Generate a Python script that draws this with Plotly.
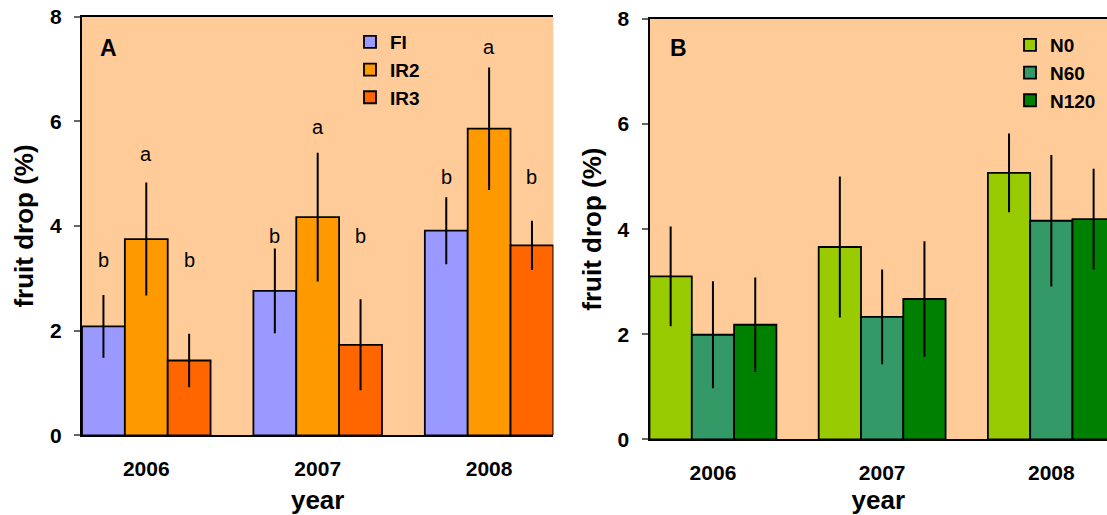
import plotly.graph_objects as go

# ---------------- data ----------------
years = ["2006", "2007", "2008"]
x_pos = [0, 1, 2]

# panel A: irrigation treatments
FI = [2.08, 2.76, 3.91]
FI_err = [0.60, 0.81, 0.64]
IR2 = [3.75, 4.17, 5.86]
IR2_err = [1.08, 1.23, 1.17]
IR3 = [1.43, 1.73, 3.63]
IR3_err = [0.51, 0.87, 0.47]
# significance letters and their heights (value units)
FI_letters = ["b", "b", "b"]
IR2_letters = ["a", "a", "a"]
IR3_letters = ["b", "b", "b"]
FI_letter_y = [3.35, 3.81, 4.94]
IR2_letter_y = [5.38, 5.90, 7.43]
IR3_letter_y = [3.35, 3.81, 4.94]

# panel B: nitrogen treatments
N0 = [3.10, 3.66, 5.07]
N0_err = [0.95, 1.34, 0.75]
N60 = [1.99, 2.33, 4.16]
N60_err = [1.02, 0.90, 1.25]
N120 = [2.18, 2.67, 4.19]
N120_err = [0.90, 1.10, 0.96]

y_ticks = [0, 2, 4, 6, 8]

# ---------------- style ----------------
W, H = 1107, 515
FONT = "Liberation Sans, Arial, sans-serif"
BG = "#FFCC99"
BAR_LINE = dict(color="black", width=1.8)


def err(a):
    return dict(type="data", array=a, visible=True, color="black",
                thickness=2, width=0)


fig = go.Figure()

seriesA = [("FI", FI, FI_err, "#9999FF"),
           ("IR2", IR2, IR2_err, "#FF9900"),
           ("IR3", IR3, IR3_err, "#FF6600")]
for name, vals, e, col in seriesA:
    fig.add_trace(go.Bar(x=x_pos, y=vals, name=name, error_y=err(e),
                         marker=dict(color=col, line=BAR_LINE),
                         xaxis="x", yaxis="y", legend="legend",
                         offsetgroup=name))

seriesB = [("N0", N0, N0_err, "#99CC00"),
           ("N60", N60, N60_err, "#339966"),
           ("N120", N120, N120_err, "#008000")]
for name, vals, e, col in seriesB:
    fig.add_trace(go.Bar(x=x_pos, y=vals, name=name, error_y=err(e),
                         marker=dict(color=col, line=BAR_LINE),
                         xaxis="x2", yaxis="y2", legend="legend2",
                         offsetgroup=name))

# significance letters (panel A)
bar_w = 0.25
offsets = [-bar_w, 0, bar_w]
annotations = []
for k, (letters, ly) in enumerate([(FI_letters, FI_letter_y),
                                   (IR2_letters, IR2_letter_y),
                                   (IR3_letters, IR3_letter_y)]):
    for i in range(len(years)):
        annotations.append(dict(x=x_pos[i] + offsets[k], y=ly[i], xref="x", yref="y",
                                text=letters[i], showarrow=False,
                                font=dict(family=FONT, size=20, color="black")))

# panel letters
annotations.append(dict(x=108 / W, y=1 - 48 / H, xref="paper", yref="paper",
                        text="A", showarrow=False, xanchor="center", yanchor="middle",
                        font=dict(family=FONT, size=23, color="black", weight="bold")))
annotations.append(dict(x=678 / W, y=1 - 48 / H, xref="paper", yref="paper",
                        text="B", showarrow=False, xanchor="center", yanchor="middle",
                        font=dict(family=FONT, size=23, color="black", weight="bold")))

tickfont = dict(family=FONT, size=21, color="black", weight="bold")
titlefont = dict(family=FONT, size=26, color="black", weight="bold")


def xaxis(domain, rng):
    return dict(domain=domain, range=rng, tickvals=x_pos, ticktext=years,
                showline=True, linecolor="black", linewidth=2, mirror=True,
                ticks="", showgrid=False, zeroline=False, tickfont=tickfont,
                ticklabelstandoff=13, automargin=False,
                title=dict(text="year", font=titlefont, standoff=15))


def yaxis(domain, anchor):
    return dict(domain=domain, range=[0, 8], tickvals=y_ticks, anchor=anchor,
                showline=True, linecolor="black", linewidth=2, mirror=False,
                ticks="outside", ticklen=6, tickwidth=1.5, tickcolor="#666666",
                showgrid=False, zeroline=False, tickfont=tickfont,
                ticklabelstandoff=8, automargin=False,
                title=dict(text="fruit drop (%)", font=titlefont, standoff=9))


legend_common = dict(bgcolor="rgba(0,0,0,0)", borderwidth=0,
                     font=dict(family=FONT, size=19, color="black", weight="bold"),
                     xanchor="left", yanchor="top", tracegroupgap=0, itemwidth=30)

fig.update_layout(
    width=W, height=H,
    margin=dict(l=0, r=0, t=0, b=0, autoexpand=False),
    paper_bgcolor="white", plot_bgcolor=BG,
    barmode="group", bargap=0.25, bargroupgap=0,
    showlegend=True,
    xaxis=xaxis([82 / W, 553.4 / W], [-0.375, 2.375]) | dict(anchor="y"),
    yaxis=yaxis([1 - 435.3 / H, 1 - 16.7 / H], "x"),
    xaxis2=xaxis([649.5 / W, 1.0], [-0.375, 2.329]) | dict(anchor="y2"),
    yaxis2=yaxis([1 - 439.3 / H, 1 - 19 / H], "x2"),
    legend=legend_common | dict(x=350 / W, y=1 - 23 / H),
    legend2=legend_common | dict(x=1010 / W, y=1 - 26 / H),
    annotations=annotations,
)

fig.write_html("out.html")
